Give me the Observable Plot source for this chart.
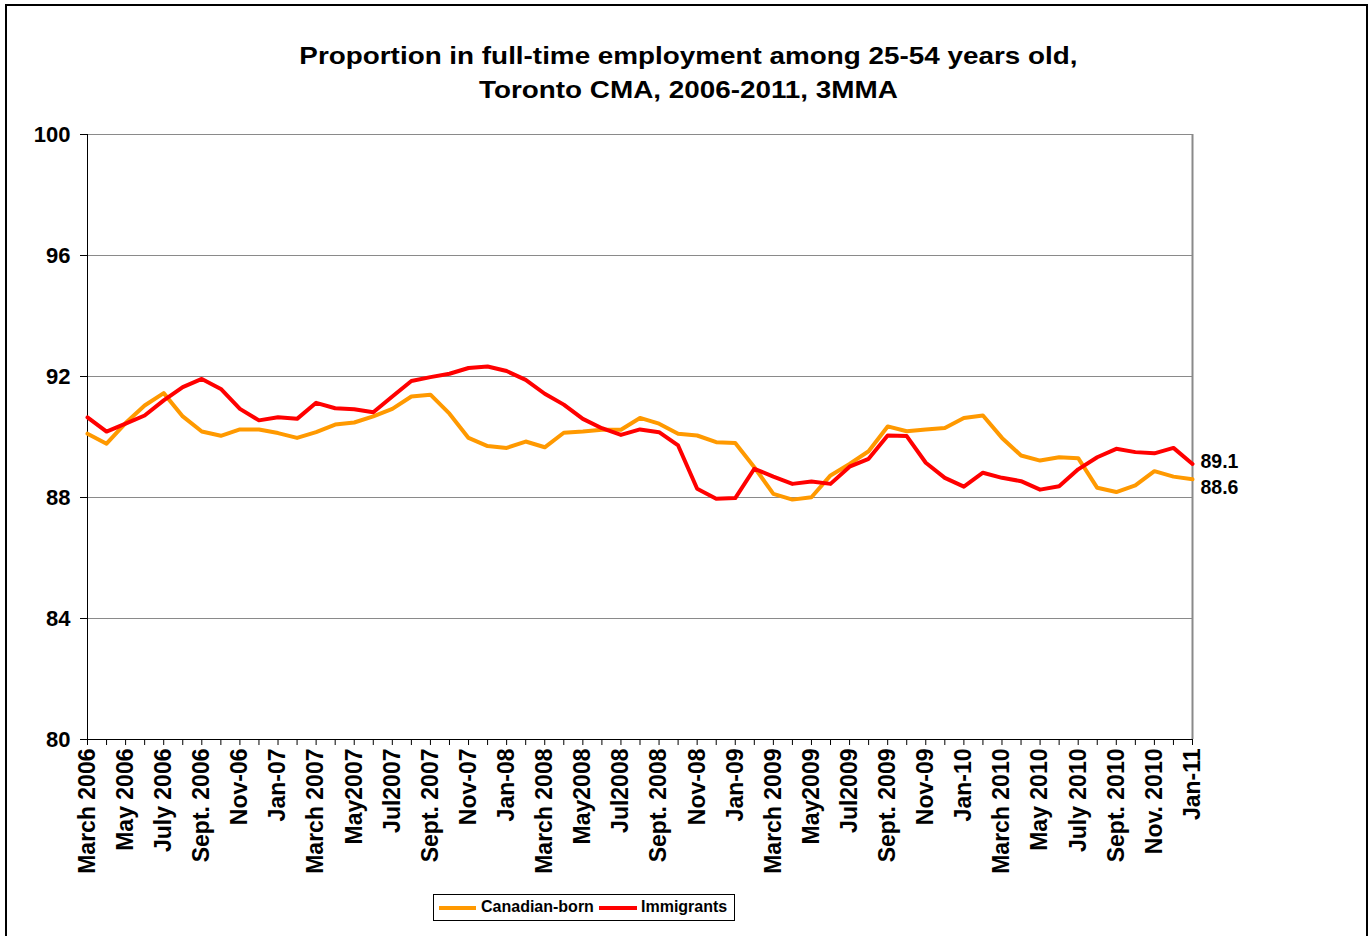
<!DOCTYPE html>
<html><head><meta charset="utf-8">
<script src="https://cdn.jsdelivr.net/npm/d3@7"></script>
<script src="https://cdn.jsdelivr.net/npm/@observablehq/plot@0.6"></script>
<style>
html,body{margin:0;padding:0;overflow:hidden;background:#fff;width:1371px;height:936px;}
body{font-family:"Liberation Sans",Arial,sans-serif;position:relative;}
#frame{position:absolute;left:5px;top:4px;width:1363px;height:980px;border:2px solid #000;box-sizing:border-box;z-index:5;pointer-events:none;background:transparent;}
#title{position:absolute;left:3px;top:39px;width:1371px;text-align:center;font-weight:bold;font-size:24px;line-height:34px;transform:scaleX(1.16);transform-origin:686px 0;color:#000;z-index:3;}
#chart{position:absolute;left:0;top:110px;}
#legend{position:absolute;left:433px;top:894px;width:302px;height:27px;border:1px solid #000;box-sizing:border-box;background:#fff;z-index:3;}
#legend .sw{position:absolute;top:11px;height:4px;}
#legend .lt{position:absolute;top:3px;font-size:16px;font-weight:bold;line-height:18px;color:#000;}
</style></head><body>
<div id="frame"></div>
<div id="title">Proportion in full-time employment among 25-54 years old,<br>Toronto CMA, 2006-2011, 3MMA</div>
<div id="chart"></div>
<div id="legend"></div>
<script>
const tickLabels = ["March 2006","May 2006","July 2006","Sept. 2006","Nov-06","Jan-07","March 2007","May2007","Jul2007","Sept. 2007","Nov-07","Jan-08","March 2008","May2008","Jul2008","Sept. 2008","Nov-08","Jan-09","March 2009","May2009","Jul2009","Sept. 2009","Nov-09","Jan-10","March 2010","May 2010","July 2010","Sept. 2010","Nov. 2010","Jan-11"];
const canadianBorn = [90.11,89.78,90.46,91.04,91.45,90.68,90.18,90.04,90.25,90.25,90.13,89.97,90.16,90.41,90.48,90.68,90.93,91.34,91.40,90.77,89.97,89.70,89.64,89.85,89.66,90.14,90.18,90.24,90.24,90.63,90.44,90.11,90.05,89.83,89.80,89.00,88.12,87.93,88.01,88.73,89.11,89.53,90.35,90.19,90.25,90.30,90.63,90.71,89.97,89.39,89.22,89.33,89.30,88.32,88.18,88.40,88.87,88.69,88.60];
const immigrants = [90.65,90.18,90.44,90.71,91.21,91.65,91.92,91.59,90.93,90.55,90.65,90.60,91.13,90.95,90.92,90.82,91.34,91.85,91.98,92.09,92.28,92.33,92.18,91.89,91.43,91.07,90.60,90.29,90.07,90.25,90.16,89.72,88.29,87.96,87.98,88.95,88.69,88.45,88.53,88.45,89.02,89.28,90.05,90.03,89.15,88.65,88.36,88.82,88.65,88.54,88.26,88.37,88.93,89.33,89.61,89.50,89.46,89.64,89.11];
const yTicks = [80,84,88,92,96,100];
const seriesNames = ["Canadian-born","Immigrants"];
const seriesColors = ["#FF9900","#FF0000"];

const rows = [];
canadianBorn.forEach((v,i)=>rows.push({series:seriesNames[0],i,v}));
immigrants.forEach((v,i)=>rows.push({series:seriesNames[1],i,v}));
const nMonths = canadianBorn.length;
const lastCB = [{i:nMonths-1, v:canadianBorn[nMonths-1]}];
const lastIm = [{i:nMonths-1, v:immigrants[nMonths-1]}];
const fmt = d3.format(".1f");

const chart = Plot.plot({
  width:1371, height:790,
  marginLeft:87, marginRight:179, marginTop:24, marginBottom:161,
  x:{domain:[0,nMonths-1]},
  y:{domain:[80,100]},
  color:{domain:seriesNames, range:seriesColors},
  style:{fontFamily:"'Liberation Sans', Arial, sans-serif", fontWeight:"bold", fontSize:"22px", background:"transparent", color:"black", overflow:"visible"},
  marks:[
    Plot.gridY(yTicks.slice(1), {stroke:"#8a8a8a", strokeOpacity:1, strokeWidth:1}),
    Plot.ruleX([nMonths-1], {stroke:"#8a8a8a", strokeWidth:2}),
    Plot.ruleX([0], {stroke:"black", strokeWidth:1}),
    Plot.ruleY([80], {stroke:"black", strokeWidth:1}),
    Plot.axisY({ticks:yTicks, tickSize:7, tickPadding:10, fontSize:22, fontWeight:"bold", label:null}),
    Plot.axisX({ticks:d3.range(nMonths), tickFormat:i => (i%2===0 ? tickLabels[i/2] : ""), tickRotate:-90, tickSize:6, tickPadding:3, fontSize:23, fontWeight:"bold", label:null}),
    Plot.line(rows, {x:"i", y:"v", z:"series", stroke:"series", strokeWidth:4, strokeLinejoin:"round"}),
    Plot.text(lastIm, {x:"i", y:"v", text:d=>fmt(d.v), dx:8, dy:-2, textAnchor:"start", fontSize:19.5, fontWeight:"bold", fill:"black"}),
    Plot.text(lastCB, {x:"i", y:"v", text:d=>fmt(d.v), dx:8, dy:8, textAnchor:"start", fontSize:19.5, fontWeight:"bold", fill:"black"})
  ]
});
document.getElementById("chart").appendChild(chart);

const legend = document.getElementById("legend");
const pos = [{sw:5, tx:47, w:37},{sw:165, tx:207, w:38}];
seriesNames.forEach((name,k)=>{
  const s = document.createElement("div");
  s.className="sw"; s.style.left=pos[k].sw+"px"; s.style.width=pos[k].w+"px"; s.style.background=seriesColors[k];
  const t = document.createElement("div");
  t.className="lt"; t.style.left=pos[k].tx+"px"; t.textContent=name;
  legend.appendChild(s); legend.appendChild(t);
});
</script>
</body></html>
